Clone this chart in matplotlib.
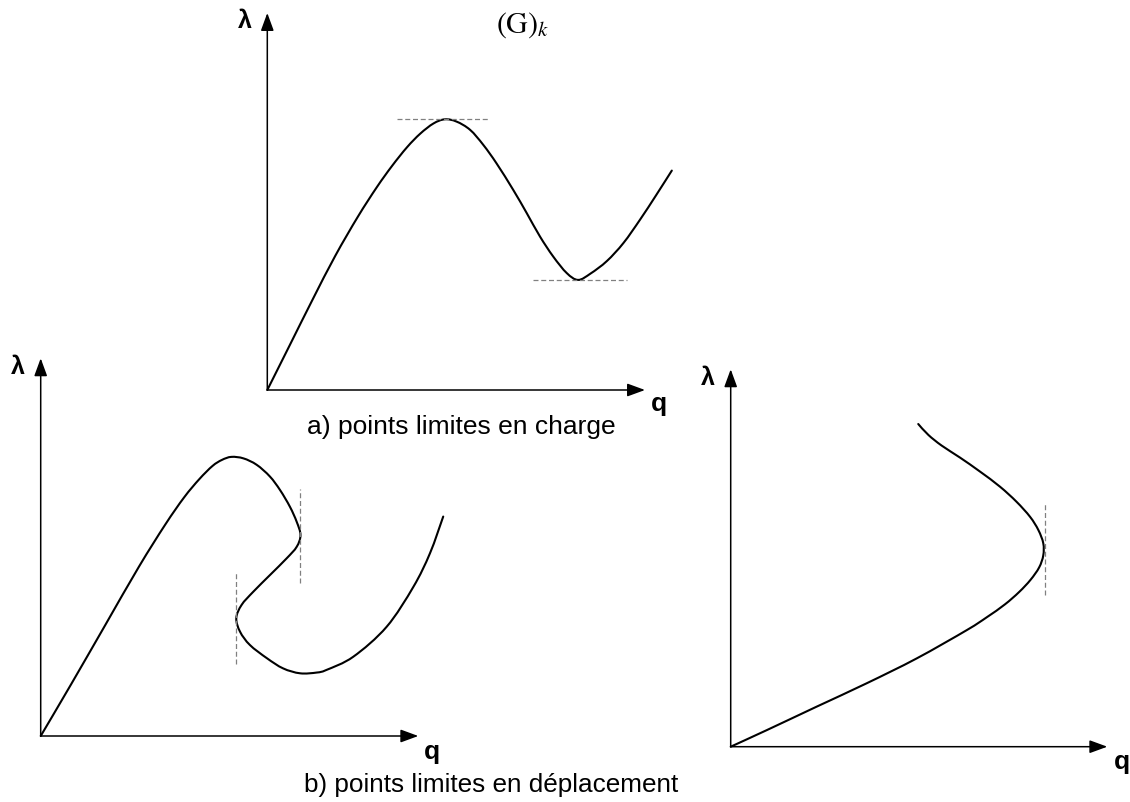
import matplotlib
matplotlib.use("Agg")
import matplotlib.pyplot as plt
from matplotlib.path import Path
from matplotlib.patches import PathPatch

W, H, DPI = 1130, 802, 100

# ---- panel a: limit points in load (lambda has a max then a min) ----
qa = [0.0, 6.0, 12.0, 18.0, 24.0, 29.0, 33.0, 37.0, 40.5, 44.0, 47.0, 50.1,
      53.7, 57.2, 60.7, 65.1, 68.7, 72.2, 75.7, 79.3, 82.3, 85.6, 89.9, 94.3,
      98.7, 102.9, 107.1]
la = [0.0, 12.0, 24.0, 35.6, 46.0, 53.8, 59.4, 64.4, 68.0, 70.7, 71.8, 71.2,
      69.0, 65.0, 60.1, 53.1, 46.9, 40.7, 35.4, 31.0, 29.2, 30.9, 34.2, 39.0,
      45.2, 51.6, 58.2]
la_peak, qa_peak_span = 71.8, (34.4, 59.0)
la_valley, qa_valley_span = 29.2, (70.4, 95.2)

# ---- panel b: limit points in displacement (snap-back) ----
qb = [0.0, 8.0, 17.0, 26.0, 33.0, 38.0, 42.0, 45.5, 48.0, 50.5, 53.7, 57.2,
      60.7, 63.4, 66.0, 67.8, 68.8, 67.8, 65.1, 60.7, 56.3, 53.2, 51.8, 52.8,
      55.4, 59.9, 64.2, 68.7, 73.1, 75.7, 82.8, 91.6, 98.7, 103.1, 106.6]
lb = [0.0, 13.6, 29.2, 44.8, 56.0, 63.2, 68.0, 71.5, 73.1, 73.9, 73.5, 71.8,
      68.7, 65.1, 60.7, 56.7, 53.2, 50.1, 47.0, 42.6, 38.2, 34.7, 31.2, 27.6,
      24.1, 20.6, 17.9, 16.6, 16.8, 17.5, 21.0, 28.9, 39.5, 48.4, 58.1]
qb_right_turn, lb_right_span = 68.8, (40.6, 65.3)
qb_left_turn, lb_left_span = 51.8, (19.1, 43.7)

# ---- panel c: single displacement limit point ----
qc = [0.0, 9.6, 22.8, 36.1, 49.4, 62.7, 68.0, 72.8, 76.6, 79.6, 81.9, 83.0,
      83.0, 81.7, 79.5, 75.9, 71.5, 66.2, 60.9, 56.0, 52.5, 49.8]
lc = [0.0, 4.4, 10.6, 16.8, 23.4, 30.9, 34.3, 37.7, 41.0, 44.2, 47.5, 50.7,
      53.9, 57.4, 60.9, 64.9, 68.9, 72.9, 76.6, 79.8, 82.6, 85.5]
qc_turn, lc_span = 83.4, (40.2, 64.9)

CAPTION_A = "a) points limites en charge"
CAPTION_B = "b) points limites en déplacement"
AXIS_Q, AXIS_L = "q", "λ"
TITLE_G = r"$(\mathrm{G})_{k}$"

plt.rcParams["font.family"] = ["Liberation Sans", "DejaVu Sans"]
plt.rcParams["mathtext.fontset"] = "stix"

fig = plt.figure(figsize=(W / DPI, H / DPI), dpi=DPI)
fig.patch.set_facecolor("white")

GUIDE = dict(color="#808080", lw=0.9, clip_on=False, dashes=(4.0, 2.2))


def smooth_path(xs, ys):
    """Cubic Bezier path through every given point (Catmull-Rom tangents)."""
    pts = list(zip(xs, ys))
    verts = [pts[0]]
    codes = [Path.MOVETO]
    n = len(pts)
    for i in range(n - 1):
        p0 = pts[i - 1] if i > 0 else pts[i]
        p1, p2 = pts[i], pts[i + 1]
        p3 = pts[i + 2] if i + 2 < n else pts[i + 1]
        c1 = (p1[0] + (p2[0] - p0[0]) / 6.0, p1[1] + (p2[1] - p0[1]) / 6.0)
        c2 = (p2[0] - (p3[0] - p1[0]) / 6.0, p2[1] - (p3[1] - p1[1]) / 6.0)
        verts += [c1, c2, p2]
        codes += [Path.CURVE4] * 3
    return Path(verts, codes)


def draw_curve(ax, xs, ys):
    patch = PathPatch(smooth_path(xs, ys), facecolor="none", edgecolor="black",
                      lw=1.5, clip_on=False, joinstyle="round", capstyle="round")
    ax.add_patch(patch)


def panel(origin, tip):
    """Axes whose (0,0)-(100,100) box spans from the origin to the arrow tips (pixels)."""
    ox, oy = origin
    tx, ty = tip
    ax = fig.add_axes([ox / W, 1 - oy / H, (tx - ox) / W, (oy - ty) / H])
    ax.set_xlim(0, 100)
    ax.set_ylim(0, 100)
    ax.axis("off")
    style = dict(arrowstyle="-|>,head_length=0.6,head_width=0.22",
                 mutation_scale=18, lw=1.1, color="black",
                 shrinkA=0, shrinkB=0)
    ax.annotate("", xy=(100, 0), xytext=(0, 0), arrowprops=style,
                annotation_clip=False)
    ax.annotate("", xy=(0, 100), xytext=(0, 0), arrowprops=style,
                annotation_clip=False)
    return ax


def label(x, y, s, **kw):
    fig.text(x / W, 1 - y / H, s, ha="center", va="center", **kw)


# panel a
ax_a = panel((267.3, 390.0), (645.0, 13.0))
draw_curve(ax_a, qa, la)
ax_a.plot(qa_peak_span, [la_peak, la_peak], **GUIDE)
ax_a.plot(qa_valley_span, [la_valley, la_valley], **GUIDE)

# panel b
ax_b = panel((40.7, 736.0), (418.3, 358.3))
draw_curve(ax_b, qb, lb)
ax_b.plot([qb_right_turn, qb_right_turn], lb_right_span, **GUIDE)
ax_b.plot([qb_left_turn, qb_left_turn], lb_left_span, **GUIDE)

# panel c
ax_c = panel((730.7, 746.7), (1107.3, 369.3))
draw_curve(ax_c, qc, lc)
ax_c.plot([qc_turn, qc_turn], lc_span, **GUIDE)

# axis names
BOLD = dict(fontweight="bold")
label(245, 21, AXIS_L, fontsize=18, **BOLD)
label(659, 404, AXIS_Q, fontsize=19, **BOLD)
label(17.5, 366.5, AXIS_L, fontsize=18, **BOLD)
label(432, 752, AXIS_Q, fontsize=19, **BOLD)
label(708, 378, AXIS_L, fontsize=18, **BOLD)
label(1122, 762, AXIS_Q, fontsize=19, **BOLD)

# title and captions
fig.text(496 / W, 1 - 25 / H, TITLE_G, ha="left", va="center", fontsize=21.5)
label(461, 427, CAPTION_A, fontsize=19)
label(491, 785, CAPTION_B, fontsize=18.8)

fig.savefig("out.png", dpi=DPI, facecolor="white")
